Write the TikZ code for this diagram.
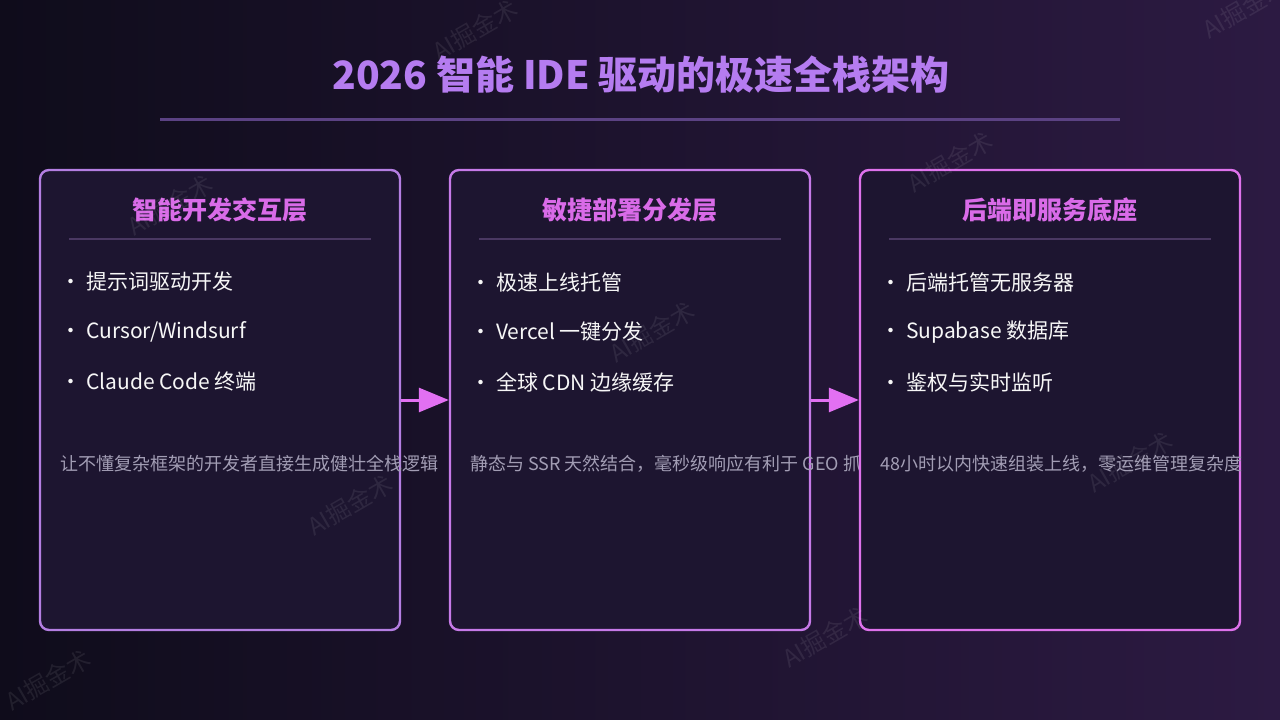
\documentclass[tikz,border=0pt]{standalone}
\usepackage{fontspec}
\setmainfont{Noto Sans CJK SC}
\usetikzlibrary{arrows.meta}
\definecolor{bgleft}{HTML}{0F0C1B}
\definecolor{bgright}{HTML}{2C1A42}
\definecolor{boxfill}{HTML}{1D1530}
\definecolor{titlecol}{HTML}{B57CF0}
\definecolor{headcol}{HTML}{D96BE8}
\definecolor{rulecol}{HTML}{5B4283}
\definecolor{divcol}{HTML}{4A3862}
\definecolor{bordera}{HTML}{B47EE2}
\definecolor{borderb}{HTML}{C67AE8}
\definecolor{borderc}{HTML}{DE72EC}
\definecolor{arrowcol}{HTML}{E270F2}
\definecolor{desccol}{HTML}{A29DB4}
\tikzset{
  layer/.style={rounded corners=9pt,line width=2.4pt,fill=boxfill,
    minimum height=460pt,inner sep=0pt},
  head/.style={font=\fontsize{25}{29}\selectfont\bfseries,text=headcol},
  item/.style={anchor=west,font=\fontsize{21}{25}\selectfont,text=white!94!gray,inner sep=0pt},
  desc/.style={anchor=west,font=\fontsize{18}{22}\selectfont,text=desccol,inner sep=0pt},
  divider/.style={divcol,line width=1.6pt},
  flow/.style={arrowcol,line width=3pt,-{Triangle[length=30pt,width=24pt]}},
  wmark/.style={rotate=30,font=\fontsize{24}{28}\selectfont,text=white,opacity=0.08}
}
\begin{document}
\begin{tikzpicture}[x=1pt,y=-1pt]
\shade[left color=bgleft,right color=bgright] (0,0) rectangle (1280,720);
\useasboundingbox (0,0) rectangle (1280,720);

\node[font=\fontsize{39}{43}\selectfont\bfseries,text=titlecol] (title) at (641,75) {2026 智能 IDE 驱动的极速全栈架构};
\draw[rulecol,line width=3pt] (160,119) -- (1120,119);

\node[layer,draw=bordera,minimum width=360pt] (ide) at (220,400) {};
\node[head] (ide-head) at (220,210) {智能开发交互层};
\draw[divider] ([shift={(30,70)}]ide.north west) -- ([shift={(-30,70)}]ide.north east);
\node[item] (ide-1) at (60,282) {·\hspace{5pt}提示词驱动开发};
\node[item] (ide-2) at (60,332) {·\hspace{5pt}Cursor/Windsurf};
\node[item] (ide-3) at (60,382) {·\hspace{5pt}Claude Code 终端};
\node[desc] (ide-desc) at (60,464) {让不懂复杂框架的开发者直接生成健壮全栈逻辑};

\node[layer,draw=borderb,minimum width=360pt] (deploy) at (630,400) {};
\node[head] (deploy-head) at (630,210) {敏捷部署分发层};
\draw[divider] ([shift={(30,70)}]deploy.north west) -- ([shift={(-30,70)}]deploy.north east);
\node[item] (deploy-1) at (470,282) {·\hspace{5pt}极速上线托管};
\node[item] (deploy-2) at (470,332) {·\hspace{5pt}Vercel 一键分发};
\node[item] (deploy-3) at (470,382) {·\hspace{5pt}全球 CDN 边缘缓存};
\node[desc] (deploy-desc) at (470,464) {静态与 SSR 天然结合，毫秒级响应有利于 GEO 抓取};

\node[layer,draw=borderc,minimum width=380pt] (baas) at (1050,400) {};
\node[head] (baas-head) at (1050,210) {后端即服务底座};
\draw[divider] ([shift={(30,70)}]baas.north west) -- ([shift={(-30,70)}]baas.north east);
\node[item] (baas-1) at (880,282) {·\hspace{5pt}后端托管无服务器};
\node[item] (baas-2) at (880,332) {·\hspace{5pt}Supabase 数据库};
\node[item] (baas-3) at (880,382) {·\hspace{5pt}鉴权与实时监听};
\node[desc] (baas-desc) at (880,464) {48小时以内快速组装上线，零运维管理复杂度};

\draw[flow] (ide.east) -- (deploy.west);
\draw[flow] (deploy.east) -- (baas.west);

\node[wmark] (wm-1) at (475,30) {AI掘金术};
\node[wmark] (wm-2) at (1245,8) {AI掘金术};
\node[wmark] (wm-3) at (170,205) {AI掘金术};
\node[wmark] (wm-4) at (950,162) {AI掘金术};
\node[wmark] (wm-5) at (652,332) {AI掘金术};
\node[wmark] (wm-6) at (350,505) {AI掘金术};
\node[wmark] (wm-7) at (1130,462) {AI掘金术};
\node[wmark] (wm-8) at (825,637) {AI掘金术};
\node[wmark] (wm-9) at (48,680) {AI掘金术};
\end{tikzpicture}
\end{document}
